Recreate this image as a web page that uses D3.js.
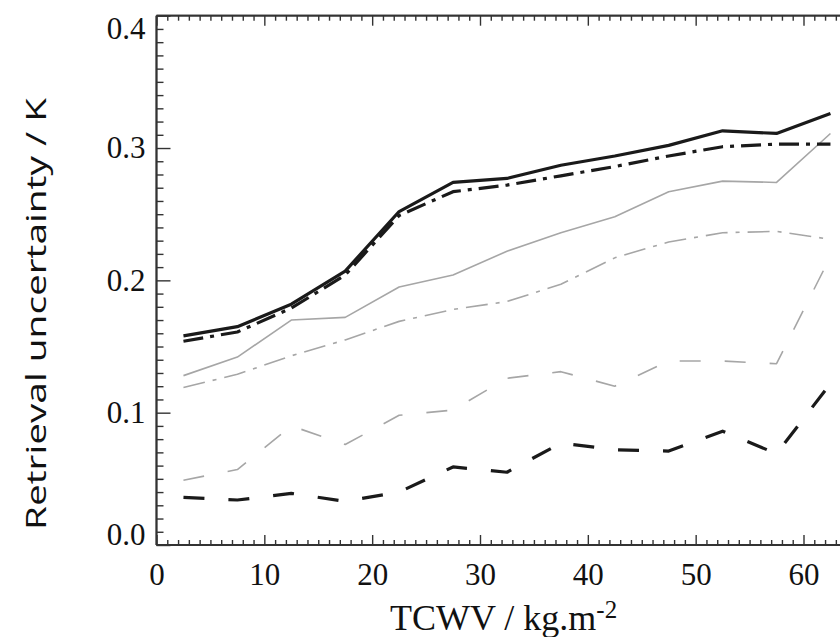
<!DOCTYPE html>
<html>
<head>
<meta charset="utf-8">
<script src="https://cdn.jsdelivr.net/npm/d3@7"></script>
<style>
  html, body { margin: 0; padding: 0; background: #fff; }
  svg { display: block; }
</style>
</head>
<body>
<svg id="chart" width="840" height="637"></svg>
<script>
// TCWV bin centres
const tcwv = [2.5, 7.5, 12.5, 17.5, 22.5, 27.5, 32.5, 37.5, 42.5, 47.5, 52.5, 57.5, 62.5];

// retrieval uncertainty (K) per line
const blackSolid   = [0.158, 0.165, 0.182, 0.207, 0.252, 0.274, 0.277, 0.287, 0.294, 0.302, 0.313, 0.311, 0.326];
const blackDashDot = [0.154, 0.161, 0.179, 0.204, 0.249, 0.267, 0.272, 0.279, 0.286, 0.294, 0.301, 0.303, 0.303];
const graySolid    = [0.128, 0.142, 0.170, 0.172, 0.195, 0.204, 0.222, 0.236, 0.248, 0.267, 0.275, 0.274, 0.311];
const grayDashDot  = [0.119, 0.129, 0.143, 0.155, 0.169, 0.178, 0.184, 0.197, 0.217, 0.229, 0.236, 0.237, 0.231];
const grayDashed   = [0.049, 0.057, 0.090, 0.076, 0.098, 0.102, 0.126, 0.131, 0.120, 0.139, 0.139, 0.137, 0.218];
const blackDashed  = [0.036, 0.034, 0.039, 0.033, 0.040, 0.059, 0.055, 0.077, 0.072, 0.071, 0.086, 0.069, 0.122];

const xTicks = [0, 10, 20, 30, 40, 50, 60];
const yTicks = [0.0, 0.1, 0.2, 0.3, 0.4];

const series = [
    { values: grayDashed,   color: '#a6a6a6', width: 1.6, dash: '21,24' },
    { values: grayDashDot,  color: '#a6a6a6', width: 1.6, dash: '22,8,4,8' },
    { values: graySolid,    color: '#a6a6a6', width: 1.6, dash: null },
    { values: blackDashed,  color: '#1a1a1a', width: 3.2, dash: '21,24' },
    { values: blackDashDot, color: '#1a1a1a', width: 3.2, dash: '20,7,4,7' },
    { values: blackSolid,   color: '#1a1a1a', width: 3.2, dash: null },
];

const svg = d3.select('#chart');

const x = d3.scaleLinear().domain([0, 60]).range([156.5, 803.5]);
const y = d3.scaleLinear().domain([0, 0.4]).range([545, 15.7]);
const xEnd = 840;

// ----- lines
const line = d3.line()
    .x((d, i) => x(tcwv[i]))
    .y(d => y(d));

svg.append('g')
    .selectAll('path')
    .data(series)
    .enter()
    .append('path')
    .attr('d', s => line(s.values))
    .attr('fill', 'none')
    .attr('stroke', s => s.color)
    .attr('stroke-width', s => s.width)
    .attr('stroke-dasharray', s => s.dash)
    .attr('stroke-linejoin', 'round');

// ----- axes (ticks point inward)
const axisColor = '#333';
const minorX = d3.range(1, 64).filter(v => v % 10 !== 0);
const minorY = d3.range(1, 40).filter(v => v % 10 !== 0).map(v => v / 100);

const bottomAxis = svg.append('g').attr('transform', `translate(0,${y(0)})`)
    .call(d3.axisBottom(x).tickValues(xTicks).tickSize(-10).tickSizeOuter(0).tickPadding(18).tickFormat(d3.format('d')));
bottomAxis.append('g').call(d3.axisBottom(x).tickValues(minorX).tickSize(-5).tickFormat(''));

const topAxis = svg.append('g').attr('transform', `translate(0,${y(0.4)})`)
    .call(d3.axisTop(x).tickValues(xTicks).tickSize(-10).tickSizeOuter(0).tickFormat(''));
topAxis.append('g').call(d3.axisTop(x).tickValues(minorX).tickSize(-5).tickFormat(''));

const leftAxis = svg.append('g').attr('transform', `translate(${x(0)},0)`)
    .call(d3.axisLeft(y).tickValues(yTicks).tickSize(-14).tickSizeOuter(0).tickPadding(11).tickFormat(d3.format('.1f')));
leftAxis.append('g').call(d3.axisLeft(y).tickValues(minorY).tickSize(-7).tickFormat(''));

// extend frame lines to the right edge
bottomAxis.selectAll('.domain').attr('d', `M${x(0)},0H${xEnd}`);
topAxis.selectAll('.domain').attr('d', `M${x(0)},0H${xEnd}`);
leftAxis.selectAll('.domain').attr('d', `M0,${y(0)}V${y(0.4)}`);

svg.selectAll('.domain').attr('stroke', axisColor).attr('stroke-width', 1.8);
svg.selectAll('.tick line').attr('stroke', axisColor).attr('stroke-width', 1.4);
svg.selectAll('.tick text')
    .attr('fill', '#111')
    .style('font-size', '31px')
    .style('font-family', '"Liberation Serif", "Times New Roman", serif');

// end labels sit inside the frame
leftAxis.selectAll('.tick text')
    .attr('dy', d => d === 0.4 ? '0.72em' : d === 0 ? '-0.02em' : '0.32em');

// ----- axis titles
const xTitle = svg.append('text')
    .attr('x', 390)
    .attr('y', 630)
    .attr('font-family', '"Liberation Serif", "Times New Roman", serif')
    .attr('font-size', 36)
    .attr('fill', '#111')
    .text('TCWV / kg.m');
xTitle.append('tspan')
    .attr('dy', -12)
    .attr('font-size', 25)
    .text('-2');

svg.append('text')
    .attr('transform', 'translate(46,314) rotate(-90)')
    .attr('text-anchor', 'middle')
    .attr('font-family', '"Open Sans", "Liberation Sans", sans-serif')
    .attr('font-size', 27)
    .attr('textLength', 432)
    .attr('lengthAdjust', 'spacingAndGlyphs')
    .attr('fill', '#111')
    .text('Retrieval uncertainty / K');
</script>
</body>
</html>
